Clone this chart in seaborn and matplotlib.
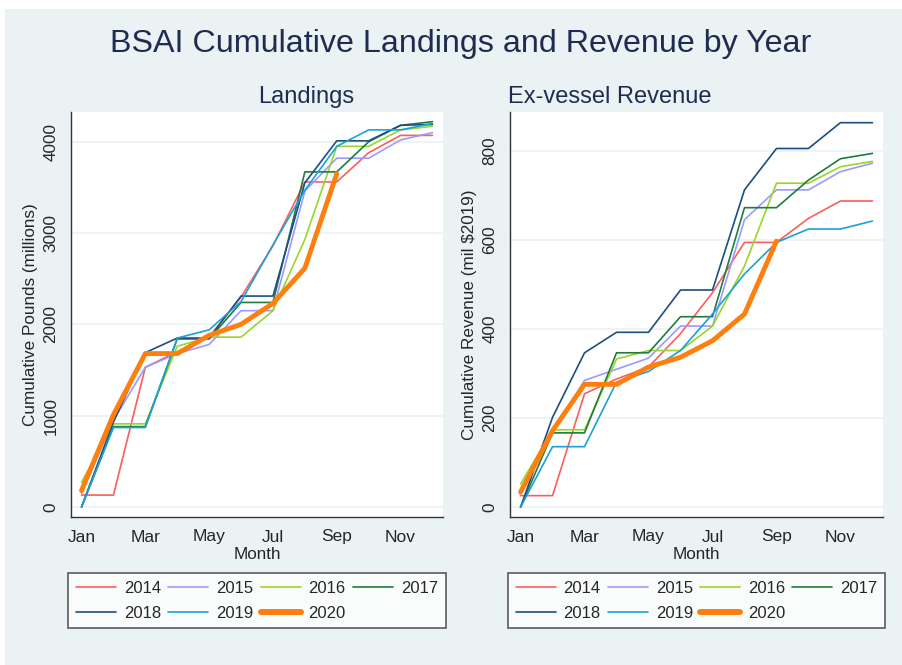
import pandas as pd
import matplotlib.pyplot as plt
import matplotlib as mpl
import seaborn as sns
from matplotlib.lines import Line2D
from matplotlib.patches import Rectangle

sns.set_style('white')
mpl.rcParams['font.family'] = ['Liberation Sans', 'DejaVu Sans']

# 데이터
month_labels = ['Jan', 'Feb', 'Mar', 'Apr', 'May', 'Jun', 'Jul', 'Aug', 'Sep', 'Oct', 'Nov', 'Dec']
years = [2014, 2015, 2016, 2017, 2018, 2019, 2020]

# 누적 어획량 (백만 파운드)
land_2014 = [130, 130, 1530, 1700, 1860, 2300, 2860, 3560, 3560, 3880, 4070, 4070]
land_2015 = [150, 950, 1530, 1680, 1780, 2150, 2150, 3460, 3820, 3820, 4020, 4100]
land_2016 = [270, 910, 910, 1760, 1860, 1860, 2150, 2930, 3950, 3950, 4130, 4170]
land_2017 = [0, 880, 880, 1840, 1840, 2240, 2240, 3670, 3670, 4000, 4180, 4220]
land_2018 = [0, 930, 1690, 1850, 1850, 2310, 2310, 3550, 4010, 4010, 4180, 4190]
land_2019 = [0, 870, 870, 1850, 1940, 2250, 2870, 3470, 3950, 4130, 4130, 4200]
land_2020 = [180, 1010, 1680, 1680, 1880, 2000, 2230, 2615, 3650]

# 누적 수입 (mil $2019)
rev_2014 = [26, 26, 255, 288, 315, 390, 482, 595, 595, 649, 688, 688]
rev_2015 = [30, 170, 285, 310, 335, 407, 407, 646, 713, 713, 754, 773]
rev_2016 = [52, 174, 174, 333, 352, 352, 407, 542, 728, 728, 765, 777]
rev_2017 = [0, 167, 167, 347, 347, 428, 428, 673, 673, 735, 783, 795]
rev_2018 = [0, 202, 347, 393, 393, 488, 488, 713, 806, 806, 864, 864]
rev_2019 = [0, 136, 136, 281, 305, 352, 434, 524, 595, 625, 625, 643]
rev_2020 = [34, 172, 276, 276, 315, 337, 374, 434, 598]

land = dict(zip(years, [land_2014, land_2015, land_2016, land_2017, land_2018, land_2019, land_2020]))
rev = dict(zip(years, [rev_2014, rev_2015, rev_2016, rev_2017, rev_2018, rev_2019, rev_2020]))

rows = []
for y in years:
    for i, v in enumerate(land[y]):
        rows.append({'year': str(y), 'month': i + 1, 'landings': v, 'revenue': rev[y][i]})
data = pd.DataFrame(rows)

palette = {'2014': '#FF5C5C', '2015': '#9A9AFF', '2016': '#99D52A', '2017': '#1E7D3C',
           '2018': '#1C4E80', '2019': '#1BA1DA', '2020': '#FF7F0E'}
widths = {k: 1.2 for k in palette}
widths['2020'] = 3.5

bg = '#EAF2F3'
fig = plt.figure(figsize=(9.02, 6.65), dpi=100, facecolor='white')
fig.patches.append(Rectangle((5 / 902, 0), 1, 1 - 9 / 665, transform=fig.transFigure,
                             facecolor=bg, edgecolor='none', zorder=-10))

ax1 = fig.add_axes([71 / 902, 1 - 517 / 665, 372 / 902, 405 / 665])
ax2 = fig.add_axes([510 / 902, 1 - 517 / 665, 373 / 902, 405 / 665])

panels = [
    (ax1, 'landings', 'Landings', 'Cumulative Pounds (millions)', [0, 1000, 2000, 3000, 4000], (-110, 4326), 'center'),
    (ax2, 'revenue', 'Ex-vessel Revenue', 'Cumulative Revenue (mil $2019)', [0, 200, 400, 600, 800], (-22, 888), 'left'),
]

# 범례 순서: 행 우선으로 채우기 위해 재배열
leg_order = [2014, 2018, 2015, 2019, 2016, 2020, 2017]

for ax, col, title, ylabel, yticks, ylim, tloc in panels:
    sns.lineplot(data=data, x='month', y=col, hue='year', size='year', sizes=widths,
                 palette=palette, ax=ax, legend=False)
    ax.set_facecolor('white')
    ax.set_xlim(0.67, 12.33)
    ax.set_ylim(*ylim)
    ax.set_xticks([1, 3, 5, 7, 9, 11])
    ax.set_xticklabels(month_labels[::2], fontsize=12.5)
    ax.set_yticks(yticks)
    ax.set_yticklabels([str(t) for t in yticks], fontsize=12.3, rotation=90, va='center')
    ax.yaxis.grid(True, color=bg, linewidth=1.2)
    ax.set_axisbelow(True)
    for s in ['top', 'right']:
        ax.spines[s].set_visible(False)
    for s in ['left', 'bottom']:
        ax.spines[s].set_color('#333333')
        ax.spines[s].set_linewidth(1.0)
    ax.tick_params(axis='both', direction='out', length=5, width=1, color='#333333', pad=4)
    ax.set_xlabel('Month', fontsize=12.3, labelpad=1.5)
    ax.set_ylabel(ylabel, fontsize=12.3, labelpad=4)
    if tloc == 'center':
        ax.text((306 - 71) / 372, 1 + 15 / 405, title, transform=ax.transAxes, fontsize=17,
                color='#1E2D4F', ha='center', va='center')
    else:
        ax.text(-2 / 373, 1 + 15 / 405, title, transform=ax.transAxes, fontsize=17,
                color='#1E2D4F', ha='left', va='center')

    handles = [Line2D([], [], color=palette[str(y)], linewidth=widths[str(y)] + (0.8 if y == 2020 else 0))
               for y in leg_order]
    leg = ax.legend(handles, [str(y) for y in leg_order], ncol=4, loc='upper center',
                    bbox_to_anchor=(0.5, -0.138), fontsize=12, frameon=True, fancybox=False,
                    handlelength=2.4, columnspacing=0.42, handletextpad=0.48,
                    borderpad=0.46, labelspacing=0.6, borderaxespad=0)
    leg.get_frame().set_edgecolor('#333333')
    leg.get_frame().set_linewidth(1.2)

fig.text(461 / 902, 1 - 44 / 665, 'BSAI Cumulative Landings and Revenue by Year', fontsize=23.2,
         color='#1E2D4F', ha='center', va='center')

plt.savefig('out.png', dpi=100, facecolor=fig.get_facecolor())
